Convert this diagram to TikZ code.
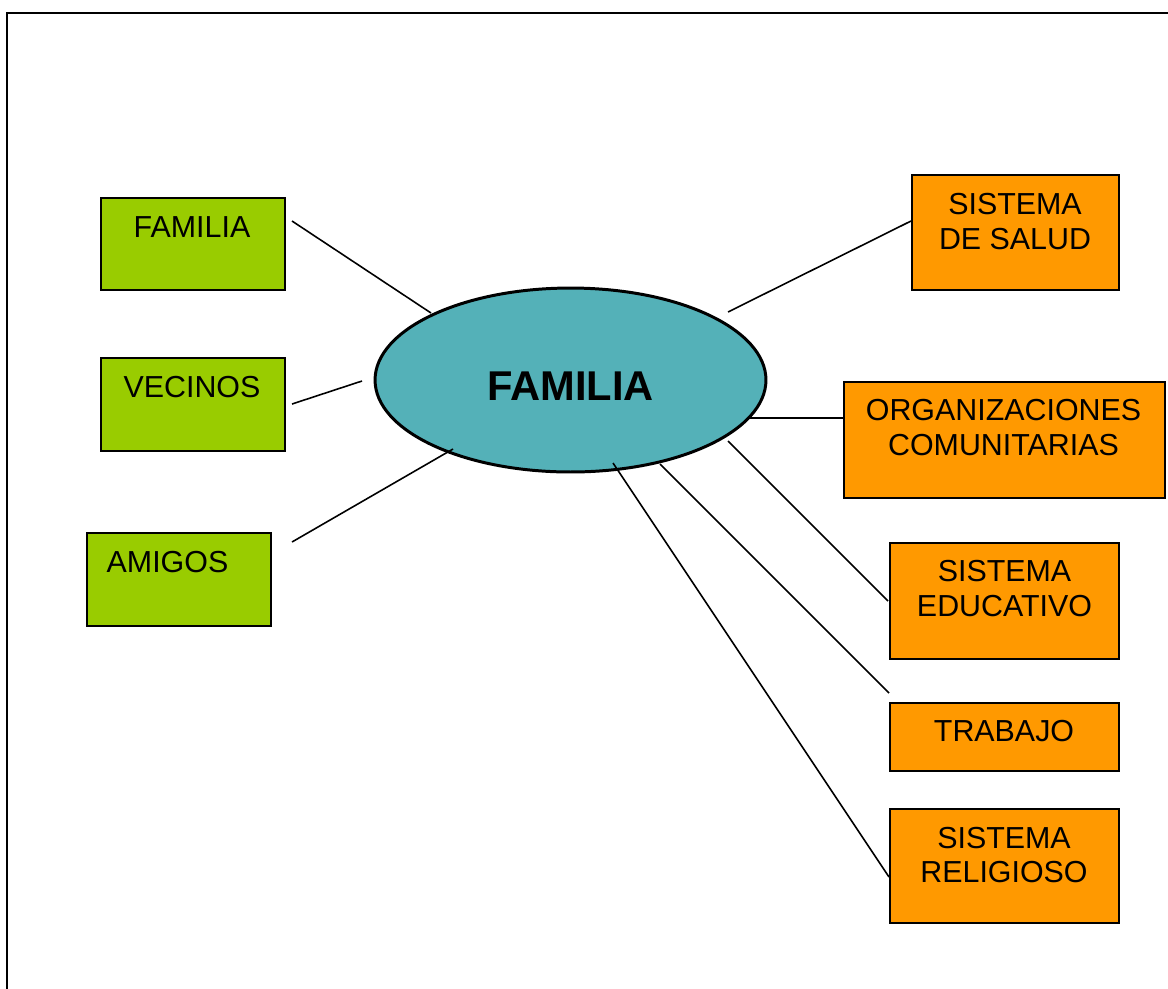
\documentclass[tikz,border=0pt]{standalone}
\usepackage{fontspec}
\setmainfont{Liberation Sans}
\usetikzlibrary{shapes.geometric}
\definecolor{gfill}{RGB}{153,204,0}
\definecolor{ofill}{RGB}{255,153,0}
\definecolor{tfill}{RGB}{84,177,184}
\begin{document}
\begin{tikzpicture}[x=0.02cm,y=-0.02cm,
  gbox/.style={draw=black, line width=1.2pt, fill=gfill, rectangle, inner sep=0pt, anchor=north west},
  obox/.style={draw=black, line width=1.2pt, fill=ofill, rectangle, inner sep=0pt, anchor=north west},
  lbl/.style={font=\fontsize{17.3}{19.9}\selectfont, align=center, inner sep=0pt},
  conn/.style={line width=0.9pt, draw=black}]
\useasboundingbox (0,0) rectangle (1168,988);
% frame
\draw[line width=1.6pt] (7,992) -- (7,13) -- (1172,13);

% central ellipse
\node[ellipse, draw=black, line width=1.7pt, fill=tfill, minimum width=7.82cm, minimum height=3.68cm,
      inner sep=0pt, text height=0.8cm, text depth=0pt,
      font=\bfseries\fontsize{23.7}{28}\selectfont] (fam) at (570.5,380) {FAMILIA};

% green boxes
\node[gbox, minimum width=3.68cm, minimum height=1.84cm] (famb) at (100,197) {};
\node[gbox, minimum width=3.68cm, minimum height=1.86cm] (vecb) at (100,357) {};
\node[gbox, minimum width=3.68cm, minimum height=1.86cm] (amib) at (86,532) {};
\node[lbl] (famt) at (192,227.5) {FAMILIA};
\node[lbl] (vect) at (192,387) {VECINOS};
\node[lbl] (amit) at (167.5,562) {AMIGOS};

% orange boxes
\node[obox, minimum width=4.14cm, minimum height=2.30cm] (salb) at (911,174) {};
\node[obox, minimum width=6.42cm, minimum height=2.32cm] (orgb) at (843,381) {};
\node[obox, minimum width=4.58cm, minimum height=2.32cm] (edub) at (889,542) {};
\node[obox, minimum width=4.58cm, minimum height=1.36cm] (trab) at (889,702) {};
\node[obox, minimum width=4.58cm, minimum height=2.28cm] (relb) at (889,808) {};
\node[lbl] (salt) at (1015,221.5) {SISTEMA\\DE SALUD};
\node[lbl] (orgt) at (1003.5,427.5) {ORGANIZACIONES\\COMUNITARIAS};
\node[lbl] (edut) at (1004.5,588.5) {SISTEMA\\EDUCATIVO};
\node[lbl] (trat) at (1004,731) {TRABAJO};
\node[lbl] (relt) at (1004,855) {SISTEMA\\RELIGIOSO};

% connector end points
\coordinate (c1a) at (292,221);  \coordinate (c1b) at (431,313);
\coordinate (c2a) at (292,404);  \coordinate (c2b) at (362,381);
\coordinate (c3a) at (292,542);  \coordinate (c3b) at (453,449);
\coordinate (c4a) at (728,312);  \coordinate (c4b) at (911,221);
\coordinate (c5a) at (750,418);  \coordinate (c5b) at (843,418);
\coordinate (c6a) at (728,441);  \coordinate (c6b) at (888,601);
\coordinate (c7a) at (660,464);  \coordinate (c7b) at (889,693);
\coordinate (c8a) at (613,463);  \coordinate (c8b) at (889,877);

\draw[conn] (c1a) -- (c1b);
\draw[conn] (c2a) -- (c2b);
\draw[conn] (c3a) -- (c3b);
\draw[conn] (c4a) -- (c4b);
\draw[conn] (c5a) -- (c5b);
\draw[conn] (c6a) -- (c6b);
\draw[conn] (c7a) -- (c7b);
\draw[conn] (c8a) -- (c8b);
\end{tikzpicture}
\end{document}
